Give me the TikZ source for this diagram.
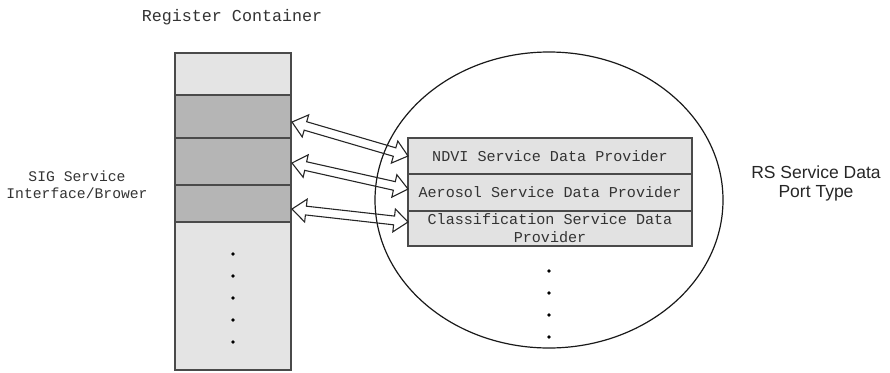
\documentclass[tikz,border=0pt]{standalone}
\usepackage{fontspec}
\setmainfont{Liberation Serif}
\newfontfamily\monofont{Liberation Mono}
\newfontfamily\labelsans{Liberation Sans}
\usetikzlibrary{shapes.geometric,calc}

\definecolor{celllight}{HTML}{E4E4E4}
\definecolor{celldark}{HTML}{B5B5B5}
\definecolor{provfill}{HTML}{E2E2E2}
\definecolor{edgegray}{HTML}{4A4A4A}
\definecolor{textgray}{HTML}{333333}

% hollow two-headed arrow between two named points:
% head length 14pt, head half-width 11.5pt, shaft half-width 4.4pt
\newcommand\linkarrow[2]{%
  \draw[link] (#1)
    -- ($(#1)!14pt!(#2)!11.5pt!90:(#2)$)
    -- ($(#1)!14pt!(#2)!4.4pt!90:(#2)$)
    -- ($(#2)!14pt!(#1)!4.4pt!-90:(#1)$)
    -- ($(#2)!14pt!(#1)!11.5pt!-90:(#1)$)
    -- (#2)
    -- ($(#2)!14pt!(#1)!11.5pt!90:(#1)$)
    -- ($(#2)!14pt!(#1)!4.4pt!90:(#1)$)
    -- ($(#1)!14pt!(#2)!4.4pt!-90:(#2)$)
    -- ($(#1)!14pt!(#2)!11.5pt!-90:(#2)$)
    -- cycle;}

\begin{document}
\begin{tikzpicture}[x=1pt,y=-1pt,
  cell/.style={draw=edgegray, line width=1.6pt, minimum width=116pt, inner sep=0pt, outer sep=0pt},
  provider/.style={draw=edgegray, fill=provfill, line width=1.6pt, minimum width=284pt,
    inner sep=0pt, align=center, text=textgray, font=\monofont\fontsize{15.1}{18}\selectfont},
  link/.style={draw=black!85, line width=1.1pt, line join=miter},
  dot/.style={circle, fill=black, inner sep=0pt, minimum size=3.6pt},
  caption/.style={text=textgray, font=\monofont\fontsize{16.7}{19}\selectfont}]

\useasboundingbox (0,0) rectangle (890,372);

% register container column
\node[cell, fill=celllight, minimum height=42pt]  (c0) at (233,74) {};
\node[cell, fill=celldark,  minimum height=43pt]  (c1) at (233,116.5) {};
\node[cell, fill=celldark,  minimum height=47pt]  (c2) at (233,161.5) {};
\node[cell, fill=celldark,  minimum height=37pt]  (c3) at (233,203.5) {};
\node[cell, fill=celllight, minimum height=148pt] (c4) at (233,296) {};
\foreach \y [count=\i] in {254,276,298,320,342}
  \node[dot] (cd\i) at (233,\y) {};

\node[caption] (regtitle) at (232,17) {Register Container};
\node[caption, font=\monofont\fontsize{14.7}{17}\selectfont, align=center] (sig) at (77,184.5)
  {SIG Service\\Interface/Brower};

% port type ellipse with its providers
\node[ellipse, draw=black!90, line width=1.2pt, minimum width=348pt, minimum height=296pt,
  inner sep=0pt] (port) at (549,200) {};
\node[provider, minimum height=36pt] (p1) at (550,156) {NDVI Service Data Provider};
\node[provider, minimum height=37pt] (p2) at (550,192.5) {Aerosol Service Data Provider};
\node[provider, minimum height=35pt] (p3) at (550,228.5) {Classification Service Data\\Provider};
\foreach \y [count=\i] in {271,293,315,337}
  \node[dot] (pd\i) at (549,\y) {};

\node[font=\labelsans\fontsize{17.5}{19}\selectfont, align=center, text=black!85] (rs) at (816,183)
  {RS Service Data\\Port Type};

% arrow end points on the column and the providers
\coordinate (l1) at (292,122);
\coordinate (r1) at (408,156);
\coordinate (l2) at (292,163);
\coordinate (r2) at (408,189);
\coordinate (l3) at (292,209);
\coordinate (r3) at (408,222);
\linkarrow{l1}{r1}
\linkarrow{l2}{r2}
\linkarrow{l3}{r3}
\end{tikzpicture}
\end{document}
